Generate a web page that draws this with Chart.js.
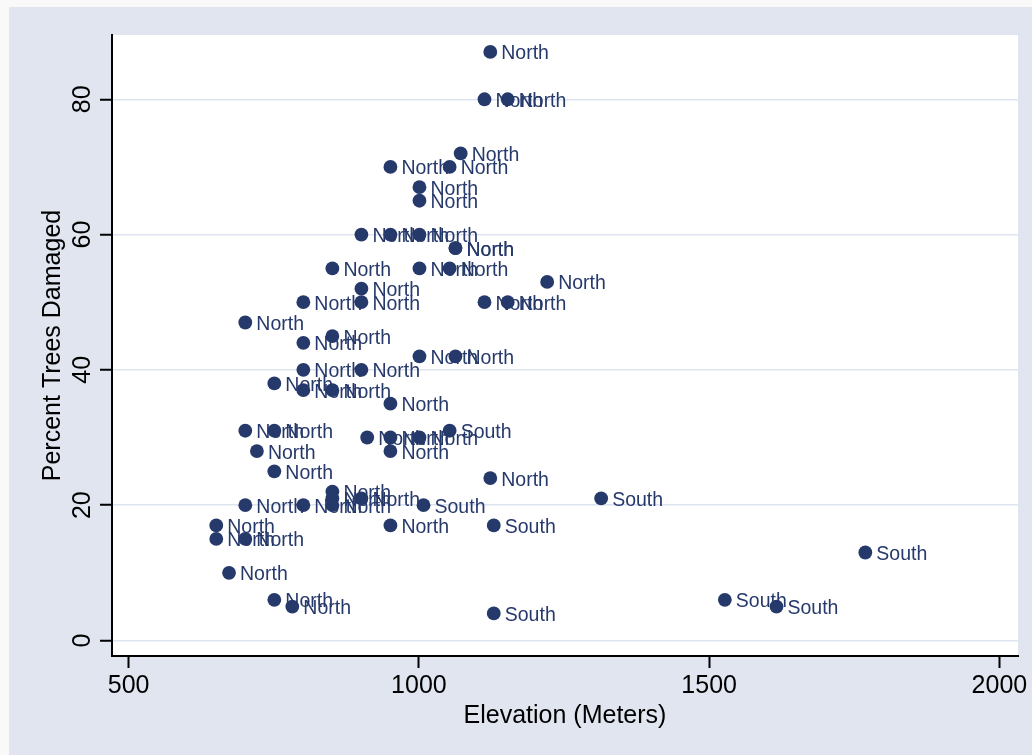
<!DOCTYPE html>
<html>
<head>
<meta charset="utf-8">
<script src="https://cdn.jsdelivr.net/npm/chart.js@4/dist/chart.umd.min.js"></script>
<style>
  html, body { margin: 0; padding: 0; background: #f9f9f9; }
  canvas { display: block; }
</style>
</head>
<body>
<canvas id="c" width="1032" height="755"></canvas>
<script>
// ---- data ----
const northElev = [1123, 1113, 1153, 1072, 951, 1053, 1001, 1001, 901, 951, 1001, 1063, 1063,
  851, 1001, 1053, 1221, 901, 801, 901, 1113, 1153, 701, 851, 801, 1001, 1063, 801, 901,
  751, 801, 851, 951, 701, 751, 911, 951, 1001, 721, 951, 751, 1123, 851, 851, 901,
  701, 801, 851, 651, 951, 651, 701, 673, 751, 782];
const northDamage = [87, 80, 80, 72, 70, 70, 67, 65, 60, 60, 60, 58, 58,
  55, 55, 55, 53, 52, 50, 50, 50, 50, 47, 45, 44, 42, 42, 40, 40,
  38, 37, 37, 35, 31, 31, 30, 30, 30, 28, 28, 25, 24, 22, 21, 21,
  20, 20, 20, 17, 17, 15, 15, 10, 6, 5];
const southElev = [1053, 1314, 1008, 1129, 1769, 1527, 1616, 1129];
const southDamage = [31, 21, 20, 17, 13, 6, 5, 4];
const northLabel = "North";
const southLabel = "South";
const xTicks = [500, 1000, 1500, 2000];
const yTicks = [0, 20, 40, 60, 80];
const xTitle = "Elevation (Meters)";
const yTitle = "Percent Trees Damaged";

const NAVY = '#26396b';
const FONT = '"Liberation Sans", Arial, sans-serif';

const toPoints = (xs, ys) => xs.map((x, i) => ({ x: x, y: ys[i] }));

const bgPlugin = {
  id: 'bg',
  beforeDraw(chart) {
    const ctx = chart.ctx, a = chart.chartArea;
    ctx.save();
    ctx.fillStyle = '#f9f9f9';
    ctx.fillRect(0, 0, chart.width, chart.height);
    ctx.fillStyle = '#e0e5ef';
    ctx.fillRect(9, 7, chart.width - 9, chart.height - 7);
    ctx.fillStyle = '#ffffff';
    ctx.fillRect(a.left, a.top, a.right - a.left, a.bottom - a.top);
    ctx.restore();
  }
};

const labelPlugin = {
  id: 'pointLabels',
  afterDatasetsDraw(chart) {
    const ctx = chart.ctx;
    ctx.save();
    ctx.font = '19.5px ' + FONT;
    ctx.fillStyle = NAVY;
    ctx.textAlign = 'left';
    ctx.textBaseline = 'alphabetic';
    chart.data.datasets.forEach((ds, di) => {
      const meta = chart.getDatasetMeta(di);
      meta.data.forEach(el => {
        ctx.fillText(ds.pointText, el.x + 11, el.y + 7.5);
      });
    });
    ctx.restore();
  }
};

const yLabelPlugin = {
  id: 'yTickLabels',
  afterDraw(chart) {
    const ctx = chart.ctx, ys = chart.scales.y;
    ctx.save();
    ctx.font = '25px ' + FONT;
    ctx.fillStyle = '#000';
    ctx.textAlign = 'center';
    ctx.textBaseline = 'middle';
    ys.ticks.forEach(t => {
      const py = ys.getPixelForValue(t.value);
      ctx.save();
      ctx.translate(82, py);
      ctx.rotate(-Math.PI / 2);
      ctx.fillText(String(t.value), 0, 1);
      ctx.restore();
    });
    ctx.restore();
  }
};

new Chart(document.getElementById('c'), {
  type: 'scatter',
  data: {
    datasets: [
      { label: northLabel, pointText: northLabel, data: toPoints(northElev, northDamage),
        backgroundColor: NAVY, borderWidth: 0, pointRadius: 6.9, pointHoverRadius: 6.9 },
      { label: southLabel, pointText: southLabel, data: toPoints(southElev, southDamage),
        backgroundColor: NAVY, borderWidth: 0, pointRadius: 6.9, pointHoverRadius: 6.9 }
    ]
  },
  options: {
    responsive: false,
    animation: false,
    events: [],
    layout: { padding: { left: 0, top: 35, right: 14, bottom: 0 } },
    plugins: { legend: { display: false }, tooltip: { enabled: false } },
    scales: {
      x: {
        type: 'linear',
        min: 471.4, max: 2032,
        afterBuildTicks: s => { s.ticks = xTicks.map(v => ({ value: v })); },
        afterFit: s => { s.height = 99; },
        border: { display: true, color: '#000', width: 2 },
        grid: { display: true, drawOnChartArea: false, drawTicks: true, tickLength: 12,
                tickColor: '#000', tickWidth: 2 },
        ticks: { color: '#000', font: { family: FONT, size: 25, lineHeight: 1.2 }, padding: 3,
                 maxRotation: 0, minRotation: 0, autoSkip: false,
                 callback: v => String(v) },
        title: { display: true, text: xTitle, color: '#000',
                 font: { family: FONT, size: 25, lineHeight: 1.2 },
                 padding: { top: 0, bottom: 24 } }
      },
      y: {
        type: 'linear',
        min: -2.3, max: 89.5,
        afterBuildTicks: s => { s.ticks = yTicks.map(v => ({ value: v })); },
        afterFit: s => { s.width = 112; },
        border: { display: true, color: '#000', width: 2 },
        grid: { display: true, drawOnChartArea: true, drawTicks: true, tickLength: 12,
                color: '#dde3ef', lineWidth: 1.5, tickColor: '#000', tickWidth: 2 },
        ticks: { display: false },
        title: { display: true, text: yTitle, color: '#000',
                 font: { family: FONT, size: 25, lineHeight: 1.2 },
                 padding: { top: 38, bottom: 0 } }
      }
    }
  },
  plugins: [bgPlugin, labelPlugin, yLabelPlugin]
});
</script>
</body>
</html>
